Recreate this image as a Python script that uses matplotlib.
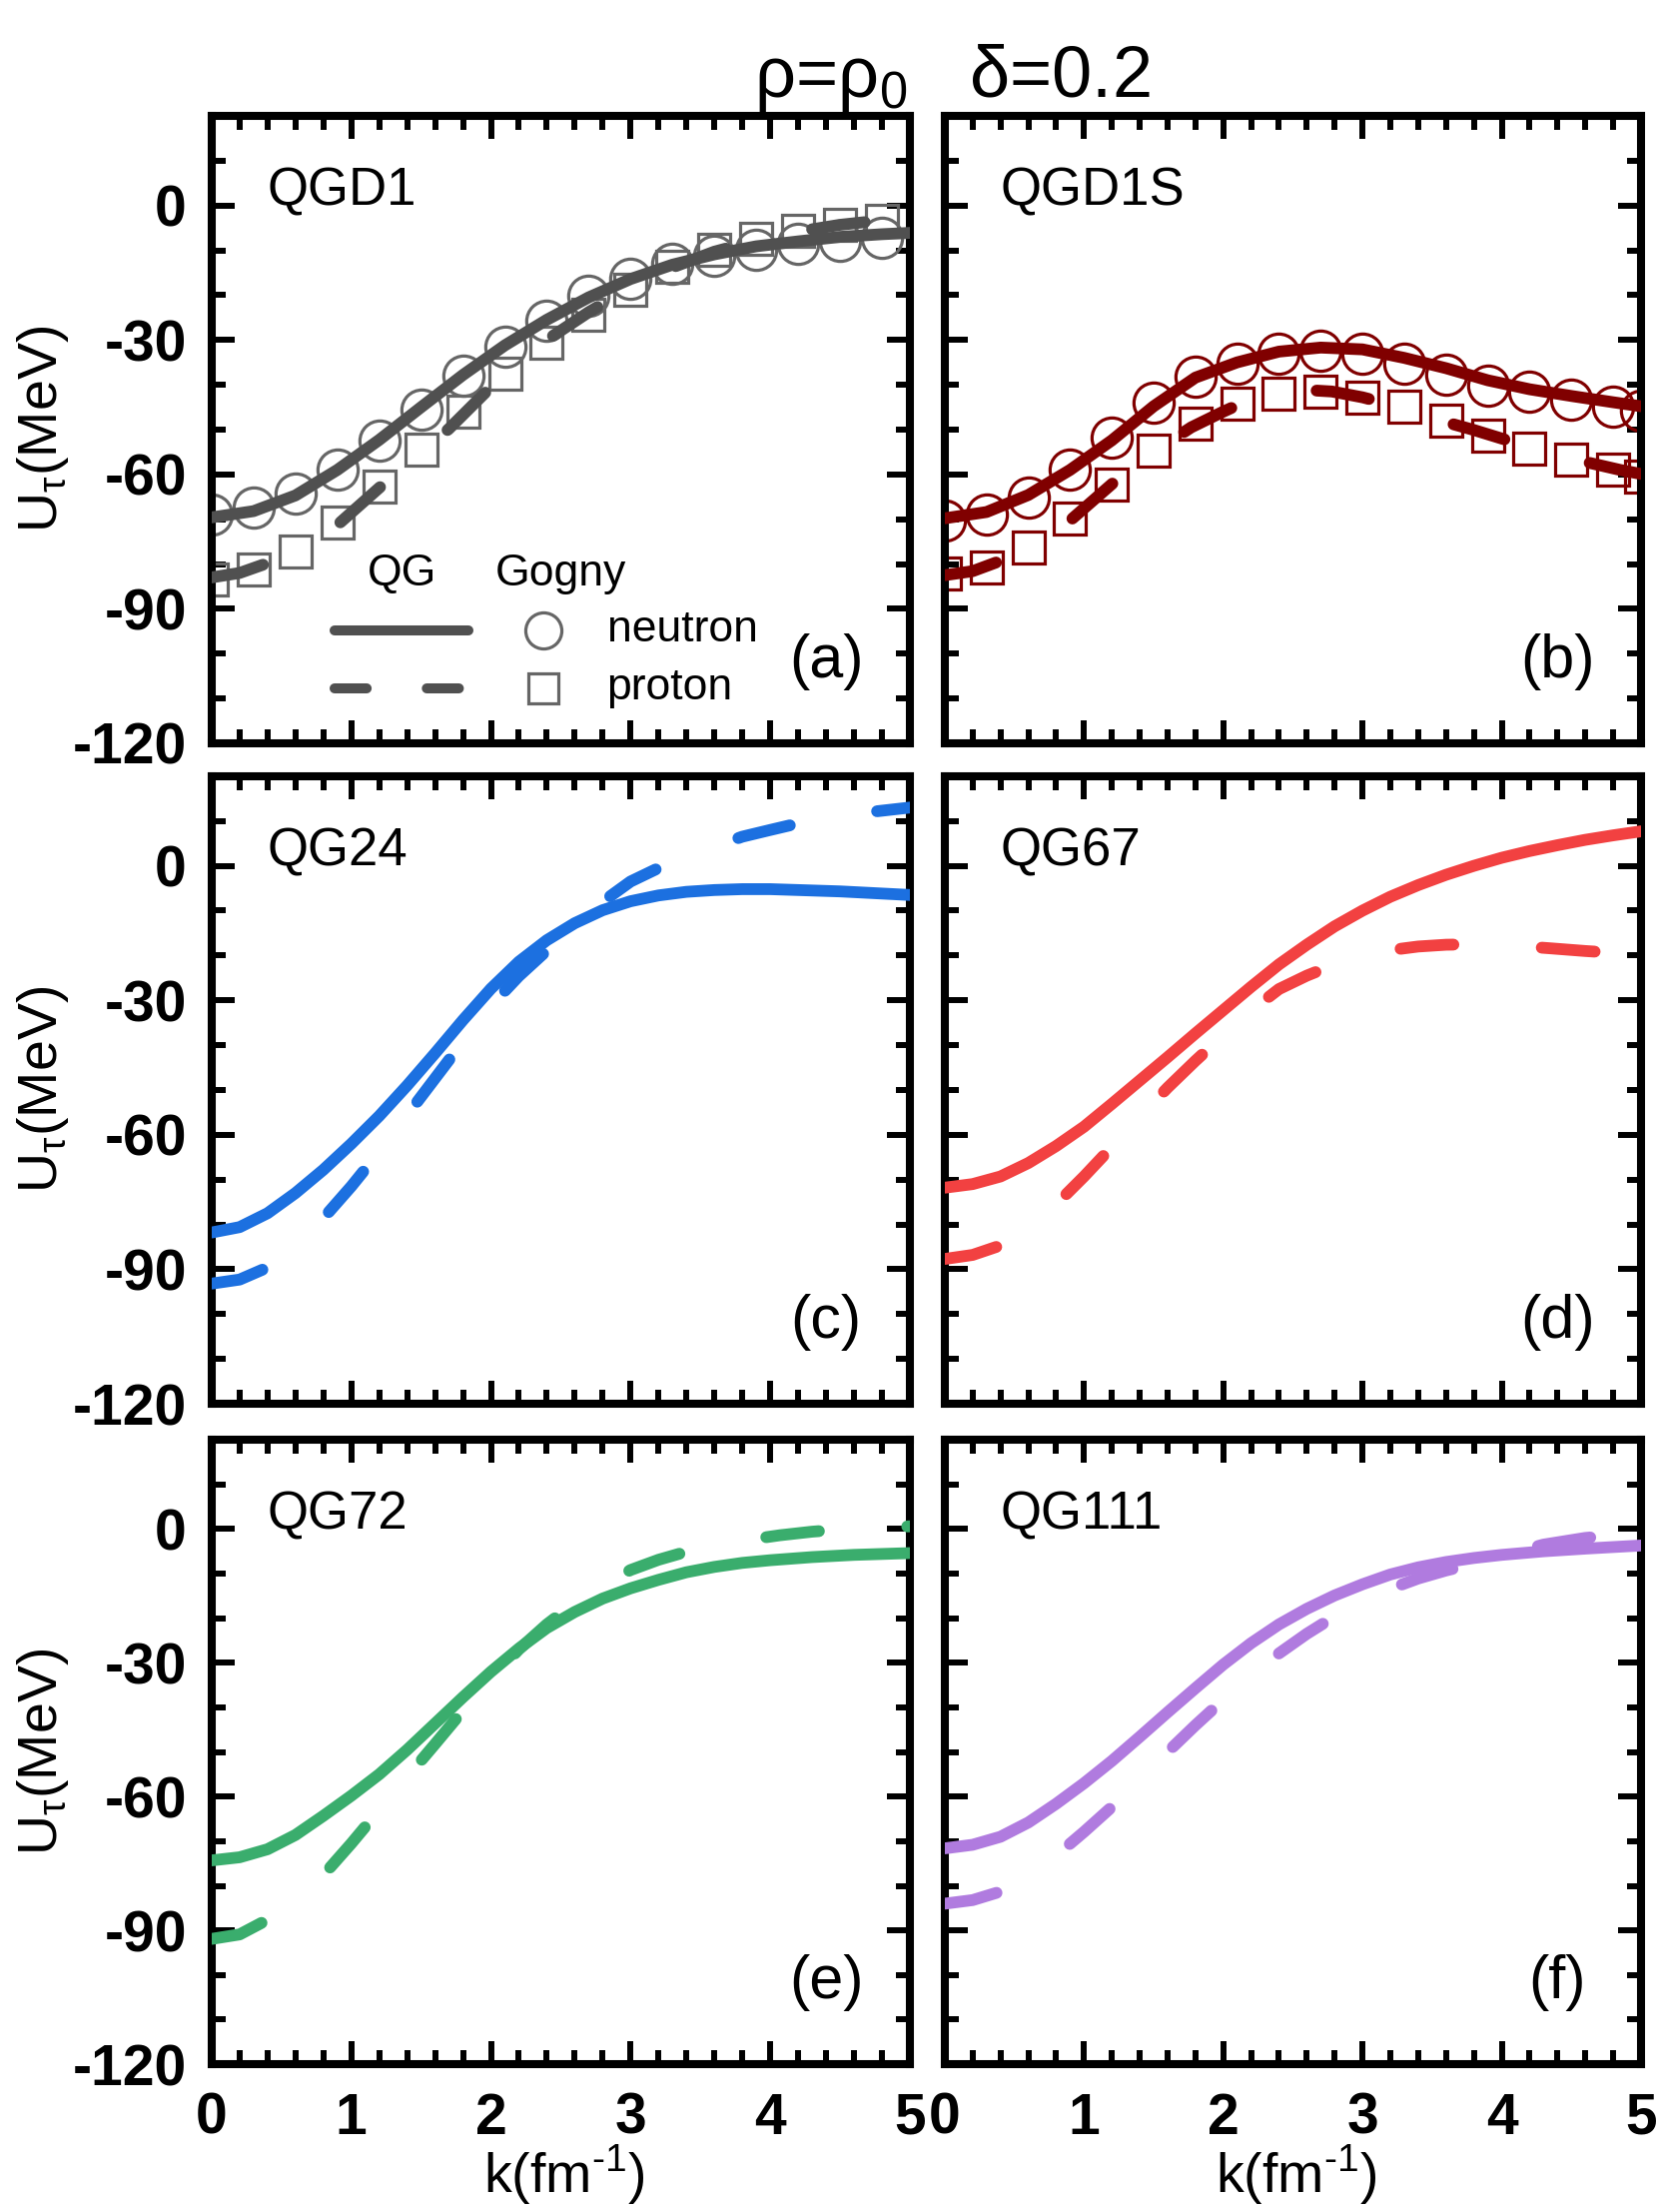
import matplotlib
matplotlib.use("Agg")
import matplotlib.pyplot as plt
from matplotlib.ticker import MultipleLocator

plt.rcParams['font.family'] = ['Liberation Sans', 'DejaVu Sans']
plt.rcParams['mathtext.fontset'] = 'custom'
plt.rcParams['mathtext.rm'] = 'Liberation Sans'
plt.rcParams['axes.unicode_minus'] = False

# ---- data: k (fm^-1) and U_tau (MeV) ----
# (a) QGD1
k_a_n = [0, 0.3, 0.6, 0.9, 1.2, 1.5, 1.8, 2.1, 2.4, 2.7, 3.0, 3.3, 3.6, 3.9, 4.2, 4.5, 4.8, 5.0]
u_a_n = [-69.6, -68.2, -64.7, -59.0, -52.3, -45.0, -37.8, -31.2, -25.5, -20.5, -16.4, -13.2, -10.9, -9.1, -8.0, -7.0, -6.4, -6.1]
k_a_p = [0, 0.2, 0.4, 0.65, 0.9, 1.2, 1.5, 1.7, 2.0, 2.4, 2.7, 3.0, 3.3, 3.6, 3.9, 4.2, 4.5, 4.8, 5.0]
u_a_p = [-83.0, -82.0, -79.8, -76.0, -71.3, -63.0, -55.3, -49.8, -40.5, -30.0, -23.8, -18.3, -13.8, -10.3, -7.8, -5.8, -4.3, -3.3, -2.8]
k_gogny = [0, 0.3, 0.6, 0.9, 1.2, 1.5, 1.8, 2.1, 2.4, 2.7, 3.0, 3.3, 3.6, 3.9, 4.2, 4.5, 4.8]
g_a_n = [-68.9, -67.5, -64.2, -59.0, -52.5, -45.5, -38.0, -31.4, -25.8, -20.2, -16.4, -13.0, -11.3, -9.8, -8.6, -7.8, -7.3]
g_a_p = [-83.4, -81.3, -77.3, -70.8, -62.8, -54.4, -45.9, -37.5, -30.5, -24.4, -18.7, -13.6, -9.8, -7.5, -5.6, -4.2, -3.3]

# (b) QGD1S
k_b_n = [0, 0.3, 0.6, 0.9, 1.2, 1.5, 1.8, 2.1, 2.4, 2.7, 3.0, 3.3, 3.6, 3.9, 4.2, 4.5, 4.8, 5.0]
u_b_n = [-69.8, -68.4, -64.6, -59.0, -52.4, -44.8, -38.4, -35.0, -32.6, -31.7, -32.1, -34.0, -36.3, -39.0, -41.0, -42.5, -43.9, -44.8]
k_b_p = [0, 0.2, 0.4, 0.65, 0.9, 1.25, 1.5, 1.77, 2.0, 2.22, 2.5, 2.78, 3.0, 3.25, 3.5, 3.79, 4.0, 4.25, 4.5, 4.85, 5.0]
u_b_p = [-82.5, -81.6, -79.3, -75.5, -70.3, -60.8, -55.0, -49.5, -46.0, -42.9, -41.0, -41.5, -42.8, -44.8, -47.5, -50.0, -52.0, -54.2, -56.5, -59.0, -59.9]
k_gogny_b = [0, 0.3, 0.6, 0.9, 1.2, 1.5, 1.8, 2.1, 2.4, 2.7, 3.0, 3.3, 3.6, 3.9, 4.2, 4.5, 4.8, 5.0]
g_b_n = [-70.3, -68.9, -65.1, -59.0, -51.9, -43.9, -38.2, -35.4, -33.0, -32.5, -33.0, -35.4, -37.7, -40.1, -41.5, -43.4, -44.8, -45.8]
g_b_p = [-82.1, -80.7, -76.4, -69.8, -62.3, -54.7, -48.6, -44.3, -42.0, -41.5, -42.9, -44.8, -48.1, -51.4, -54.2, -56.6, -59.0, -60.4]

# (c) QG24
k_c_n = [0, 0.2, 0.4, 0.6, 0.8, 1.0, 1.2, 1.4, 1.6, 1.8, 2.0, 2.2, 2.4, 2.6, 2.8, 3.0, 3.2, 3.4, 3.6, 3.8, 4.0, 4.5, 5.0]
u_c_n = [-81.8, -80.6, -77.5, -73.0, -67.8, -62.0, -55.8, -49.0, -41.8, -34.4, -27.4, -21.4, -16.6, -12.8, -9.9, -7.9,
         -6.6, -5.8, -5.4, -5.2, -5.2, -5.7, -6.5]
k_c_p = [0, 0.2, 0.4, 0.6, 0.8, 1.0, 1.2, 1.4, 1.6, 1.8, 2.0, 2.2, 2.4, 2.6, 2.8, 3.0, 3.2, 3.4, 3.6, 3.8, 4.0, 4.3, 4.6, 5.0]
u_c_p = [-93.2, -92.3, -89.6, -85.0, -78.6, -71.5, -63.8, -55.6, -47.4, -39.2, -31.2, -24.6, -18.9, -13.5, -8.0, -3.5,
         -0.5, 2.0, 4.3, 6.5, 8.0, 10.2, 11.6, 13.0]

# (d) QG67
k_d_n = [0, 0.2, 0.4, 0.6, 0.8, 1.0, 1.2, 1.4, 1.6, 1.8, 2.0, 2.2, 2.4, 2.6, 2.8, 3.0, 3.2, 3.4, 3.6, 3.8, 4.0, 4.2, 4.4,
         4.6, 4.8, 5.0]
u_d_n = [-71.8, -71.0, -69.3, -66.3, -62.5, -58.2, -53.1, -47.9, -42.7, -37.4, -32.2, -27.0, -22.0, -17.6, -13.5, -10.0,
         -6.9, -4.3, -2.0, 0.0, 1.8, 3.3, 4.6, 5.8, 6.8, 7.7]
k_d_p = [0, 0.2, 0.4, 0.6, 0.8, 1.0, 1.2, 1.4, 1.6, 1.8, 2.0, 2.2, 2.4, 2.6, 2.8, 3.0, 3.2, 3.4, 3.6, 3.8, 4.0, 4.35, 4.6, 5.0]
u_d_p = [-87.7, -86.8, -84.7, -81.0, -75.5, -69.3, -62.7, -56.0, -49.5, -43.5, -37.8, -32.3, -27.5, -24.5, -22.0, -20.2,
         -18.8, -18.0, -17.6, -17.5, -17.6, -18.4, -19.0, -19.8]

# (e) QG72
k_e_n = [0, 0.2, 0.4, 0.6, 0.8, 1.0, 1.2, 1.4, 1.6, 1.8, 2.0, 2.2, 2.4, 2.6, 2.8, 3.0, 3.2, 3.4, 3.6, 3.8, 4.0, 4.3, 4.6, 5.0]
u_e_n = [-74.3, -73.6, -71.8, -68.6, -64.3, -59.8, -55.0, -49.5, -43.6, -37.7, -32.0, -26.8, -22.2, -18.6, -15.6, -13.3,
         -11.4, -9.7, -8.5, -7.6, -7.0, -6.3, -5.8, -5.4]
k_e_p = [0, 0.2, 0.4, 0.6, 0.8, 1.0, 1.2, 1.4, 1.6, 1.8, 2.0, 2.2, 2.4, 2.6, 2.8, 3.0, 3.2, 3.4, 3.6, 3.8, 4.07, 4.3, 4.55, 5.0]
u_e_p = [-91.9, -90.9, -87.6, -83.0, -77.6, -70.5, -63.0, -55.6, -48.2, -40.7, -33.6, -27.0, -21.4, -16.6, -12.6, -9.2,
         -6.9, -5.1, -3.8, -2.6, -1.4, -0.6, 0.0, 0.6]

# (f) QG111
k_f_n = [0, 0.2, 0.4, 0.6, 0.8, 1.0, 1.2, 1.4, 1.6, 1.8, 2.0, 2.2, 2.4, 2.6, 2.8, 3.0, 3.2, 3.4, 3.6, 3.8, 4.0, 4.3, 4.6, 5.0]
u_f_n = [-71.6, -70.8, -69.0, -65.8, -61.6, -57.0, -52.0, -46.6, -41.1, -35.7, -30.4, -25.6, -21.4, -17.9, -14.9, -12.4,
         -10.2, -8.6, -7.4, -6.5, -5.8, -5.0, -4.4, -3.7]
k_f_p = [0, 0.2, 0.4, 0.6, 0.8, 1.0, 1.2, 1.4, 1.6, 1.8, 2.0, 2.2, 2.4, 2.6, 2.8, 3.0, 3.2, 3.4, 3.6, 3.8, 4.0, 4.3, 4.6,
         4.82, 5.0]
u_f_p = [-84.0, -83.2, -81.3, -77.8, -73.2, -67.9, -62.3, -56.3, -50.0, -44.0, -38.3, -32.8, -27.9, -23.5, -19.6, -16.3,
         -13.4, -11.1, -9.3, -7.8, -6.0, -3.5, -2.0, -1.4, -1.0]

names = ["QGD1", "QGD1S", "QG24", "QG67", "QG72", "QG111"]
tags = ["(a)", "(b)", "(c)", "(d)", "(e)", "(f)"]
colors = ["#505050", "#800000", "#1c70e0", "#f24141", "#3aad6d", "#b07bdf"]
neutron = [(k_a_n, u_a_n), (k_b_n, u_b_n), (k_c_n, u_c_n), (k_d_n, u_d_n), (k_e_n, u_e_n), (k_f_n, u_f_n)]
proton = [(k_a_p, u_a_p), (k_b_p, u_b_p), (k_c_p, u_c_p), (k_d_p, u_d_p), (k_e_p, u_e_p), (k_f_p, u_f_p)]
gogny = {0: (k_gogny, g_a_n, g_a_p, "#666666"), 1: (k_gogny_b, g_b_n, g_b_p, "#800000")}

yticks = [-120, -90, -60, -30, 0]
xticks = [0, 1, 2, 3, 4, 5]

LW = 8.5
DASH = (0, (4.5, 7.5))

fig = plt.figure(figsize=(16.61, 22.14), dpi=100)
lefts = [0.1276, 0.5695]
widths = [0.4208, 0.4196]
bottoms = [0.6640, 0.3654, 0.0668]
heights = [0.2836, 0.2837, 0.2823]

for i in range(6):
    row, col = i // 2, i % 2
    ax = fig.add_axes([lefts[col], bottoms[row], widths[col], heights[row]])
    c = colors[i]

    if i in gogny:
        kg, gn, gp, mc = gogny[i]
        ax.plot(kg, gn, 'o', ms=29, mfc='none', mec=mc, mew=2.3, zorder=2)
        ax.plot(kg, gp, 's', ms=23, mfc='none', mec=mc, mew=2.3, zorder=2)

    ax.plot(neutron[i][0], neutron[i][1], color=c, lw=LW, solid_capstyle='round', solid_joinstyle='round', zorder=3)
    ax.plot(proton[i][0], proton[i][1], color=c, lw=LW, ls=DASH, dash_capstyle='round', dash_joinstyle='round',
            zorder=3)

    ax.set_xlim(0, 5)
    ax.set_ylim(-120, 20)
    ax.xaxis.set_minor_locator(MultipleLocator(0.2))
    ax.yaxis.set_minor_locator(MultipleLocator(10))
    ax.set_xticks(xticks)
    ax.set_yticks(yticks)
    ax.tick_params(which='both', direction='in', top=True, right=True, width=4.3)
    ax.tick_params(which='major', length=16.5)
    ax.tick_params(which='minor', length=10)
    ax.tick_params(axis='x', pad=20)
    ax.tick_params(axis='y', pad=18)
    for s in ax.spines.values():
        s.set_linewidth(5.8)

    if col == 0:
        ax.set_yticklabels([str(v) for v in yticks], fontsize=41, fontweight='bold')
        ax.set_ylabel(r"U$_{\mathregular{\tau}}$(MeV)", fontsize=40)
        ax.yaxis.set_label_coords(-0.202, 0.5)
    else:
        ax.tick_params(axis='y', labelleft=False)
    if row == 2:
        ax.set_xticklabels([str(v) for v in xticks], fontsize=41, fontweight='bold')
        ax.set_xlabel(r"k(fm$^{\text{-1}}$)", fontsize=40)
        ax.xaxis.set_label_coords(0.505, -0.125)
    else:
        ax.tick_params(axis='x', labelbottom=False)

    ax.text(0.08, 0.88, names[i], transform=ax.transAxes, fontsize=38, va='center', ha='left')
    ax.text(0.88, 0.13, tags[i], transform=ax.transAxes, fontsize=44, va='center', ha='center')

    if i == 0:
        # legend drawn by hand like the original
        ax.text(0.273, 0.27, "QG", transform=ax.transAxes, fontsize=32, ha='center', va='center')
        ax.text(0.50, 0.27, "Gogny", transform=ax.transAxes, fontsize=32, ha='center', va='center')
        ax.plot([0.176, 0.368], [0.18, 0.18], transform=ax.transAxes, color=c, lw=LW * 0.85,
                solid_capstyle='round')
        ax.plot([0.176, 0.368], [0.088, 0.088], transform=ax.transAxes, color=c, lw=LW * 0.85,
                ls=(0, (3.2, 6.0)), dash_capstyle='round')
        ax.plot([0.475], [0.18], 'o', transform=ax.transAxes, ms=26, mfc='none', mec="#666666", mew=2.3)
        ax.plot([0.475], [0.088], 's', transform=ax.transAxes, ms=21, mfc='none', mec="#666666", mew=2.3)
        ax.text(0.566, 0.18, "neutron", transform=ax.transAxes, fontsize=32, ha='left', va='center')
        ax.text(0.566, 0.088, "proton", transform=ax.transAxes, fontsize=32, ha='left', va='center')

fig.text(0.574, 0.9562, r"ρ=ρ$_{\mathregular{0}}$   δ=0.2", fontsize=52, ha='center', va='baseline')

plt.savefig("out.png", dpi=100)
plt.close()
